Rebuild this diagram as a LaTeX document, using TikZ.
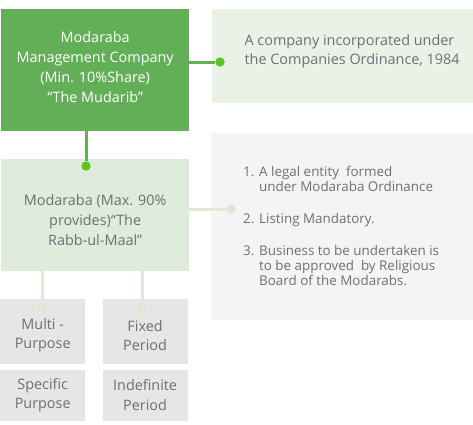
\documentclass[tikz,border=0pt]{standalone}
\usepackage{fontspec}
\setmainfont{Open Sans}
\usepackage{tikz}
\usetikzlibrary{positioning,calc}

\definecolor{mudgreen}{HTML}{63AF57}
\definecolor{dotgreen}{HTML}{5CC21C}
\definecolor{palegreen}{HTML}{EAF2E8}
\definecolor{rabbgreen}{HTML}{DFEBDB}
\definecolor{linkpale}{HTML}{DCEAD7}
\definecolor{rulegrey}{HTML}{F4F4F4}
\definecolor{kindgrey}{HTML}{E6E6E6}
\definecolor{txtgrey}{HTML}{6B7075}

\begin{document}
\begin{tikzpicture}[
  x=1pt, y=-1pt,
  box/.style={inner sep=0pt, align=center, text=txtgrey},
  mainbox/.style={box, fill=mudgreen, text=white, font=\fontsize{14.4}{20}\selectfont},
  rabbbox/.style={box, fill=rabbgreen, font=\fontsize{14.4}{20}\selectfont},
  infobox/.style={box, minimum width=262pt},
  kindbox/.style={box, fill=kindgrey, minimum width=85pt, font=\fontsize{14.4}{19.5}\selectfont},
  infotext/.style={inner sep=0pt, align=left, text=txtgrey, anchor=west},
  link/.style={line width=3pt, mudgreen},
  palelink/.style={line width=3pt, linkpale},
  dot/.style={circle, fill=dotgreen, inner sep=0pt, minimum size=9pt},
  paledot/.style={dot, fill=linkpale}
]
\useasboundingbox (0,0) rectangle (473,424);

% left column
\node[mainbox, minimum width=188pt, minimum height=122pt, anchor=north west] (mgmt) at (1,9)
  {Modaraba\\Management Company\\(Min. 10\%Share)\\“The Mudarib”\rule[-7pt]{0pt}{7pt}};
\node[rabbbox, minimum width=188pt, minimum height=112pt, below=27pt of mgmt] (rabb)
  {\rule{0pt}{21pt}Modaraba (Max. 90\%\\provides)“The\\Rabb-ul-Maal”};

% kinds of modaraba
\node[kindbox, minimum height=65pt, anchor=north west] (multi) at (0,299) {\rule{0pt}{18.5pt}Multi -\\Purpose};
\node[kindbox, minimum height=65pt, right=17pt of multi] (fixed) {\rule{0pt}{18.5pt}Fixed\\Period};
\node[kindbox, minimum height=51pt, below=5pt of multi] (specific) {Specific\\Purpose};
\node[kindbox, minimum height=51pt, below=5pt of fixed] (indef) {Indefinite\\Period};

% right column
\node[infobox, fill=palegreen, minimum height=94pt, right=22pt of mgmt.north east, anchor=north west] (company) {};
\node[infobox, fill=rulegrey, minimum height=187pt, anchor=north west] (rules) at (211,133) {};
\node[infotext, font=\fontsize{14.4}{19}\selectfont] (companytxt) at ($(company.west)+(33,-4.5)$)
  {A company incorporated under\\the Companies Ordinance, 1984};
\node[infotext, font=\fontsize{13.4}{15}\selectfont] (rulestxt) at ($(rules.west)+(32,-1)$)
  {\makebox[16pt][l]{1.}A legal entity\ \ formed\\
   \hspace*{16pt}under Modaraba Ordinance\\[17pt]
   \makebox[16pt][l]{2.}Listing Mandatory.\\[17pt]
   \makebox[16pt][l]{3.}Business to be undertaken is\\
   \hspace*{16pt}to be approved\ \ by Religious\\
   \hspace*{16pt}Board of the Modarabs.};

% dots
\node[dot] (d1) at (220,62) {};
\node[dot] (d2) at (86,166) {};
\node[paledot] (d3) at (231,209) {};
\node[paledot] (d4) at (42,308) {};
\node[paledot] (d5) at (142,308) {};

% connectors
\draw[link] (mgmt.east |- d1) -- (d1);
\draw[link] (mgmt.south -| d2) -- (d2);
\draw[palelink] (rabb.east |- d3) -- (d3);
\draw[palelink] (rabb.south -| d4) -- (d4);
\draw[palelink] (rabb.south -| d5) -- (d5);
\node[dot] at (d1) {};
\node[dot] at (d2) {};
\node[paledot] at (d3) {};
\node[paledot] at (d4) {};
\node[paledot] at (d5) {};
\end{tikzpicture}
\end{document}
